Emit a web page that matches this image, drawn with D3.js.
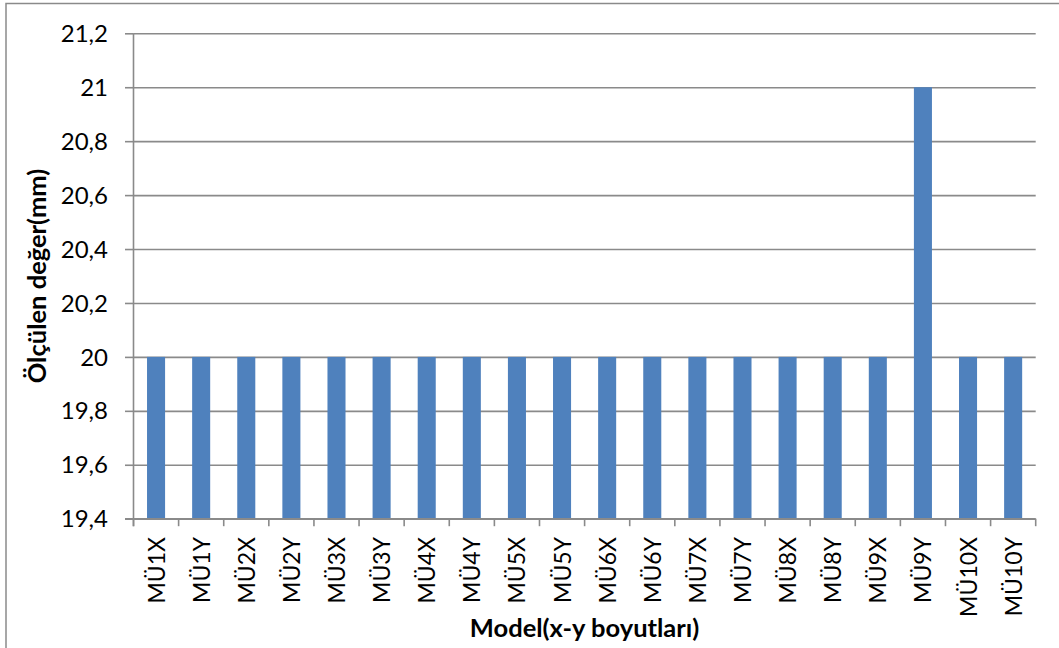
<!DOCTYPE html>
<html>
<head>
<meta charset="utf-8">
<script src="https://cdnjs.cloudflare.com/ajax/libs/d3/7.8.5/d3.min.js"></script>
<style>
  html, body { margin: 0; padding: 0; background: #ffffff; }
  svg { display: block; }
  text { font-family: Lato, "Open Sans", "Liberation Sans", sans-serif; fill: #000; }
</style>
</head>
<body>
<svg id="chart" width="1059" height="648"></svg>
<script>
// Measured dimensions per model (mm)
const categories = ["MÜ1X","MÜ1Y","MÜ2X","MÜ2Y","MÜ3X","MÜ3Y","MÜ4X","MÜ4Y","MÜ5X","MÜ5Y",
                    "MÜ6X","MÜ6Y","MÜ7X","MÜ7Y","MÜ8X","MÜ8Y","MÜ9X","MÜ9Y","MÜ10X","MÜ10Y"];
const values = [20,20,20,20,20,20,20,20,20,20,
                20,20,20,20,20,20,20,21,20,20];
const yTicks = [19.4,19.6,19.8,20,20.2,20.4,20.6,20.8,21,21.2];
const yDomain = [19.4, 21.2];
const xTitle = "Model(x-y boyutları)";
const yTitle = "Ölçülen değer(mm)";

const svg = d3.select("#chart");
const plot = { left: 133.5, right: 1035.7, top: 33.3, bottom: 518.7 };
const gridColor = "#8a8a8a";
const barColor = "#4f81bd";

// Outer chart frame (runs past the right and bottom edges)
svg.append("rect")
  .attr("x", 6).attr("y", 3.5)
  .attr("width", 1100).attr("height", 700)
  .attr("fill", "#fff")
  .attr("stroke", gridColor).attr("stroke-width", 1.5);

const y = d3.scaleLinear().domain(yDomain).range([plot.bottom, plot.top]);
const x = d3.scaleBand().domain(categories)
  .range([plot.left, plot.right])
  .paddingInner(0.6).paddingOuter(0.3);

const fmt = v => d3.format(".1~f")(v).replace(".", ",");

// Horizontal gridlines with short outer ticks
svg.append("g")
  .attr("transform", `translate(${plot.left},0)`)
  .call(d3.axisLeft(y).tickValues(yTicks).tickFormat("")
        .tickSizeInner(-(plot.right - plot.left)).tickSizeOuter(0))
  .call(g => g.select(".domain").remove())
  .call(g => g.selectAll(".tick line").attr("stroke", gridColor).attr("stroke-width", 1.6))
  .call(g => g.selectAll(".tick").append("line")
        .attr("x1", -8.5).attr("x2", 0)
        .attr("stroke", gridColor).attr("stroke-width", 1.6));

// Bars
svg.append("g").selectAll("rect")
  .data(values)
  .join("rect")
  .attr("x", (d, i) => x(categories[i]))
  .attr("width", x.bandwidth())
  .attr("y", d => y(d))
  .attr("height", d => y(yDomain[0]) - y(d))
  .attr("fill", barColor);

// Y axis line
svg.append("line")
  .attr("x1", plot.left).attr("x2", plot.left)
  .attr("y1", plot.top).attr("y2", plot.bottom + 7.5)
  .attr("stroke", gridColor).attr("stroke-width", 1.6);

// Y tick labels
svg.append("g").selectAll("text")
  .data(yTicks)
  .join("text")
  .attr("x", 108)
  .attr("y", d => y(d))
  .attr("dy", "0.36em")
  .attr("text-anchor", "end")
  .style("font-size", "24px")
  .text(fmt);

// X axis line and category boundary ticks
svg.append("line")
  .attr("x1", plot.left - 8.5).attr("x2", plot.right)
  .attr("y1", plot.bottom).attr("y2", plot.bottom)
  .attr("stroke", gridColor).attr("stroke-width", 1.6);

const step = x.step();
svg.append("g").selectAll("line")
  .data(d3.range(categories.length + 1))
  .join("line")
  .attr("x1", i => plot.left + i * step)
  .attr("x2", i => plot.left + i * step)
  .attr("y1", plot.bottom).attr("y2", plot.bottom + 7.5)
  .attr("stroke", gridColor).attr("stroke-width", 1.6);

// Rotated category labels
svg.append("g").selectAll("text")
  .data(categories)
  .join("text")
  .attr("transform", d => `translate(${x(d) + x.bandwidth() / 2},537) rotate(-90)`)
  .attr("dy", "0.37em")
  .attr("text-anchor", "end")
  .style("font-size", "23px")
  .text(d => d);

// Axis titles
svg.append("text")
  .attr("x", (plot.left + plot.right) / 2)
  .attr("y", 637)
  .attr("text-anchor", "middle")
  .style("font-size", "25.5px")
  .style("font-weight", "bold")
  .text(xTitle);

svg.append("text")
  .attr("transform", `translate(46,${(plot.top + plot.bottom) / 2}) rotate(-90)`)
  .attr("text-anchor", "middle")
  .style("font-size", "25.5px")
  .style("font-weight", "bold")
  .text(yTitle);
</script>
</body>
</html>
